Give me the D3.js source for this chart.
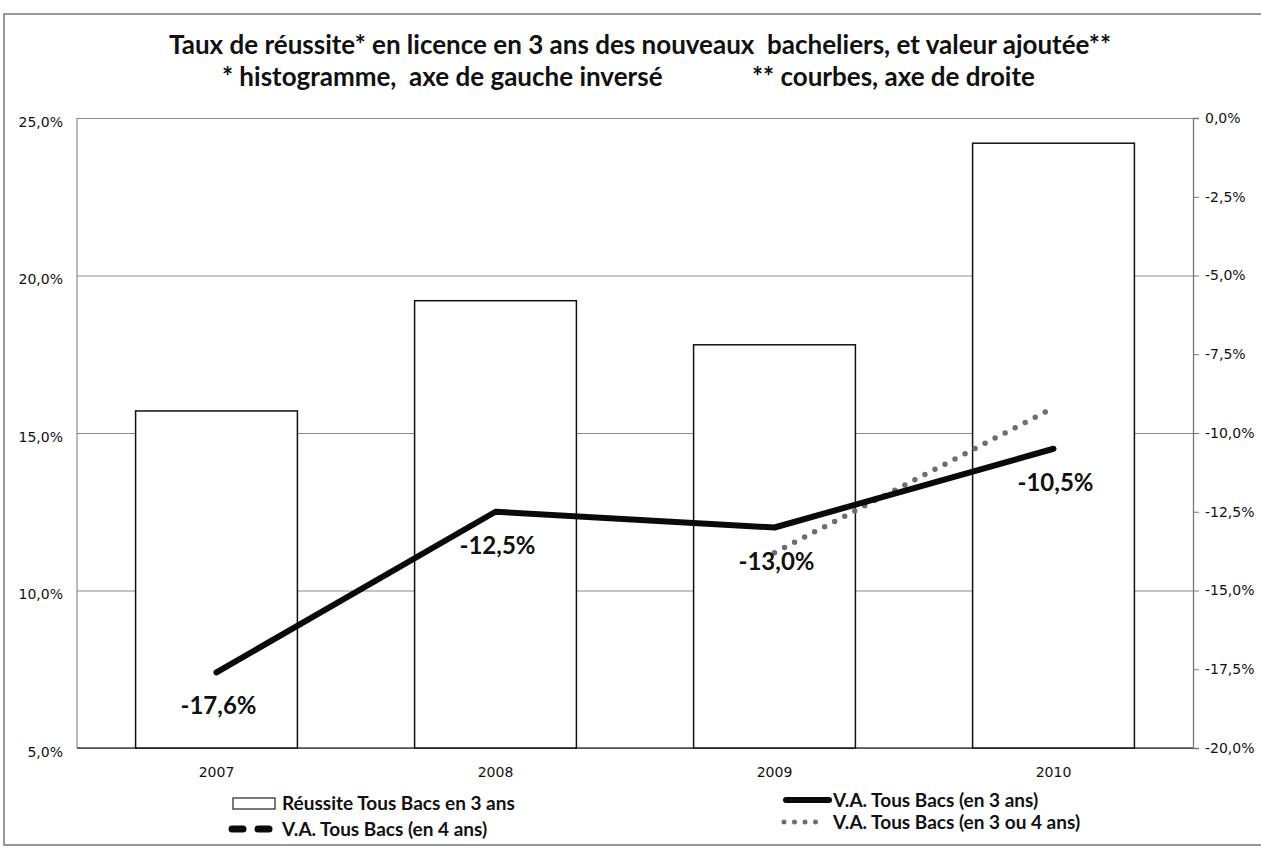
<!DOCTYPE html>
<html>
<head>
<meta charset="utf-8">
<script src="https://cdn.jsdelivr.net/npm/d3@7"></script>
<style>
  body { margin: 0; background: #fff; }
  text { font-family: Lato, "Noto Sans", sans-serif; fill: #111; white-space: pre; }
</style>
</head>
<body>
<div id="chart"></div>
<script>
// data
var years = ["2007", "2008", "2009", "2010"];
var reussite3 = [15.7, 19.2, 17.8, 24.2];          // bars, left axis
var va3 = [-17.6, -12.5, -13.0, -10.5];           // solid line, right axis
var va34 = [null, null, -13.8, -9.2];             // dotted line, right axis
var leftTicks = [5, 10, 15, 20, 25];
var rightTicks = [0, -2.5, -5, -7.5, -10, -12.5, -15, -17.5, -20];
var legendLeft = ["Réussite Tous Bacs en 3 ans", "V.A. Tous Bacs (en 4 ans)"];
var legendRight = ["V.A. Tous Bacs (en 3 ans)", "V.A. Tous Bacs (en 3 ou 4 ans)"];

var W = 1261, H = 848;
var pLeft = 77, pRight = 1193, pTop = 118, pBottom = 748;

var svg = d3.select("#chart").append("svg")
  .attr("width", W).attr("height", H);

// outer frame
svg.append("rect")
  .attr("x", 4).attr("y", 14).attr("width", 1270).attr("height", 831)
  .attr("fill", "none").attr("stroke", "#777").attr("stroke-width", 1.5);

// titles
svg.append("text").attr("x", 640).attr("y", 54).attr("text-anchor", "middle")
  .style("font-size", "26px").style("font-weight", "bold")
  .text("Taux de réussite* en licence en 3 ans des nouveaux  bacheliers, et valeur ajoutée**");
svg.append("text").attr("x", 222).attr("y", 86)
  .style("font-size", "26px").style("font-weight", "bold")
  .text("* histogramme,  axe de gauche inversé");
svg.append("text").attr("x", 752).attr("y", 86)
  .style("font-size", "26px").style("font-weight", "bold")
  .text("** courbes, axe de droite");

// scales
var x = d3.scaleBand().domain(years).range([pLeft, pRight])
  .paddingInner(0.42).paddingOuter(0.21);
var yL = d3.scaleLinear().domain([5, 25]).range([pBottom, pTop]);
var yR = d3.scaleLinear().domain([-20, 0]).range([pBottom, pTop]);

// french style: comma decimal, plain hyphen for minus
var fmt = function(d) {
  return d3.format(".1f")(d).replace(".", ",").replace("\u2212", "-") + "%";
};

// gridlines + left labels
var gl = svg.append("g").attr("transform", "translate(" + pLeft + ",0)")
  .call(d3.axisLeft(yL).tickValues(leftTicks).tickSize(-(pRight - pLeft)).tickPadding(14).tickFormat(fmt));
gl.select(".domain").remove();
gl.selectAll(".tick line").attr("stroke", "#8a8a8a");
gl.selectAll(".tick text").style("font-size", "14px").style("font-family", "\"DejaVu Sans\", sans-serif")
  .attr("fill", "#222").attr("dy", "0.6em");

// plot borders
svg.append("line").attr("x1", pLeft).attr("x2", pLeft).attr("y1", pTop).attr("y2", pBottom)
  .attr("stroke", "#777");
svg.append("line").attr("x1", pLeft).attr("x2", pRight).attr("y1", pBottom).attr("y2", pBottom)
  .attr("stroke", "#444").attr("stroke-width", 1.3);

// right axis
var gr = svg.append("g").attr("transform", "translate(" + pRight + ",0)")
  .call(d3.axisRight(yR).tickValues(rightTicks).tickSize(6).tickPadding(6).tickFormat(fmt));
gr.select(".domain").attr("stroke", "#777").attr("stroke-width", 1.3);
gr.selectAll(".tick line").attr("stroke", "#777");
gr.selectAll(".tick text").style("font-size", "14px").style("font-family", "\"DejaVu Sans\", sans-serif")
  .attr("fill", "#222");

// x labels
var gx = svg.append("g").attr("transform", "translate(0," + pBottom + ")")
  .call(d3.axisBottom(x).tickSize(0).tickPadding(19));
gx.select(".domain").remove();
gx.selectAll(".tick text").style("font-size", "14px").style("font-family", "\"DejaVu Sans\", sans-serif")
  .attr("fill", "#222");

// bars
svg.selectAll(".bar").data(reussite3).enter().append("rect")
  .attr("class", "bar")
  .attr("x", function(d, i) { return x(years[i]); })
  .attr("width", x.bandwidth())
  .attr("y", function(d) { return yL(d); })
  .attr("height", function(d) { return pBottom - yL(d); })
  .attr("fill", "#fff").attr("stroke", "#111").attr("stroke-width", 1.5);

var cx = function(i) { return x(years[i]) + x.bandwidth() / 2; };

var line = d3.line()
  .defined(function(d) { return d != null; })
  .x(function(d, i) { return cx(i); })
  .y(function(d) { return yR(d); });

// dotted line
svg.append("path").datum(va34)
  .attr("d", line)
  .attr("fill", "none").attr("stroke", "#6e6e6e").attr("stroke-width", 5.5)
  .attr("stroke-linecap", "round").attr("stroke-dasharray", "0,11.3");

// solid line
svg.append("path").datum(va3)
  .attr("d", line)
  .attr("fill", "none").attr("stroke", "#0a0a0a").attr("stroke-width", 6)
  .attr("stroke-linecap", "round").attr("stroke-linejoin", "round");

// data labels
svg.selectAll(".lbl").data(va3).enter().append("text")
  .attr("class", "lbl")
  .attr("x", function(d, i) { return cx(i) + 2; })
  .attr("y", function(d) { return yR(d) + 42; })
  .attr("text-anchor", "middle")
  .style("font-size", "24px").style("font-weight", "bold")
  .text(fmt);

// legend
var lg = svg.append("g");
lg.append("rect").attr("x", 233).attr("y", 798).attr("width", 42).attr("height", 11)
  .attr("fill", "#fff").attr("stroke", "#222").attr("stroke-width", 1.2);
lg.append("line").attr("x1", 232).attr("x2", 269).attr("y1", 829).attr("y2", 829)
  .attr("stroke", "#0a0a0a").attr("stroke-width", 7).attr("stroke-linecap", "round")
  .attr("stroke-dasharray", "11,15");
lg.selectAll(".lt").data(legendLeft).enter().append("text")
  .attr("x", 282).attr("y", function(d, i) { return 810 + i * 26; })
  .style("font-size", "19px").style("font-weight", "bold")
  .text(function(d) { return d; });

lg.append("line").attr("x1", 786).attr("x2", 829).attr("y1", 800).attr("y2", 800)
  .attr("stroke", "#0a0a0a").attr("stroke-width", 6).attr("stroke-linecap", "round");
lg.append("line").attr("x1", 784).attr("x2", 826).attr("y1", 822).attr("y2", 822)
  .attr("stroke", "#6e6e6e").attr("stroke-width", 5).attr("stroke-linecap", "round")
  .attr("stroke-dasharray", "0,10.5");
lg.selectAll(".rt").data(legendRight).enter().append("text")
  .attr("x", 833).attr("y", function(d, i) { return 807 + i * 22; })
  .style("font-size", "19px").style("font-weight", "bold")
  .text(function(d) { return d; });
</script>
</body>
</html>
